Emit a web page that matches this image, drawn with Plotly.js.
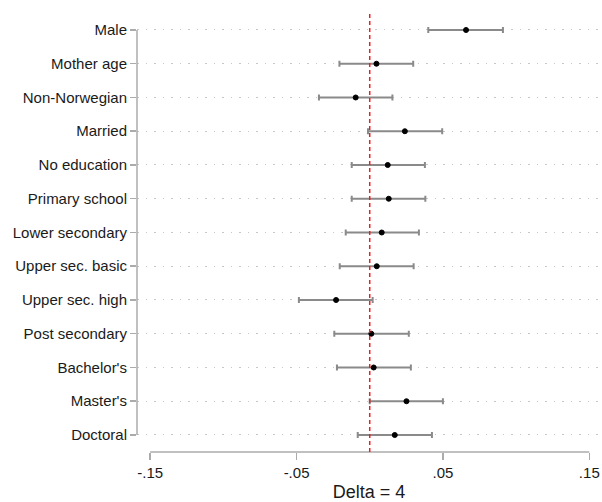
<!DOCTYPE html>
<html>
<head>
<meta charset="utf-8">
<script src="https://cdn.plot.ly/plotly-3.0.1.min.js"></script>
<style>html,body{margin:0;padding:0;background:#fff;}#chart{width:602px;height:502px;}</style>
</head>
<body>
<div id="chart"></div>
<script>
const categories = ["Male","Mother age","Non-Norwegian","Married","No education","Primary school","Lower secondary","Upper sec. basic","Upper sec. high","Post secondary","Bachelor's","Master's","Doctoral"];
const estimate = [0.0658, 0.0046, -0.0096, 0.0240, 0.0123, 0.0130, 0.0082, 0.0048, -0.0230, 0.0011, 0.0027, 0.0251, 0.0171];
const ciLower  = [0.0400, -0.0207, -0.0347, -0.0012, -0.0123, -0.0123, -0.0164, -0.0205, -0.0484, -0.0242, -0.0224, 0.0000, -0.0082];
const ciUpper  = [0.0910, 0.0297, 0.0155, 0.0495, 0.0377, 0.0380, 0.0336, 0.0300, 0.0020, 0.0267, 0.0281, 0.0500, 0.0425];
const xTickVals = [-0.15, -0.05, 0.05, 0.15];
const xTickText = ["-.15", "-.05", ".05", ".15"];
const xTitle = "Delta = 4";
const refValue = 0;

const plus = estimate.map((v,i)=>ciUpper[i]-v);
const minus = estimate.map((v,i)=>v-ciLower[i]);

const trace = {
  type: 'scatter', mode: 'markers',
  x: estimate, y: categories,
  marker: {color: '#000', size: 5, line: {color: '#000', width: 1}},
  error_x: {type: 'data', symmetric: false, array: plus, arrayminus: minus,
            color: '#8a8a8a', thickness: 2, width: 3},
  hoverinfo: 'skip', showlegend: false
};

const axisCol = '#ababab';
const layout = {
  width: 602, height: 502,
  margin: {l: 137, r: 1, t: 12, b: 50, pad: 0},
  paper_bgcolor: '#fff', plot_bgcolor: '#fff',
  font: {family: 'Liberation Sans, Arial, sans-serif', size: 15, color: '#1a1a1a'},
  xaxis: {
    range: [-0.159, 0.158], tickvals: xTickVals, ticktext: xTickText,
    ticks: 'outside', ticklen: 7, tickwidth: 1.5, tickcolor: axisCol,
    showgrid: false, zeroline: false, showline: false,
    tickfont: {size: 15, color: '#1a1a1a'},
    title: {text: xTitle, font: {size: 18, color: '#1a1a1a'}, standoff: 9}
  },
  yaxis: {
    type: 'category', categoryorder: 'array', categoryarray: categories,
    range: [categories.length - 1 + 0.504, -0.533],
    ticks: 'outside', ticklen: 6, tickwidth: 1.5, tickcolor: axisCol,
    showgrid: true, gridcolor: '#c8c8c8', gridwidth: 1, griddash: '1.5px,7px',
    zeroline: false, showline: false,
    tickfont: {size: 15, color: '#1a1a1a'}
  },
  shapes: [
    {type: 'line', xref: 'x', yref: 'paper', x0: xTickVals[0], x1: xTickVals[xTickVals.length-1], y0: 0, y1: 0,
     line: {color: axisCol, width: 1.5}},
    {type: 'line', xref: 'paper', yref: 'y', x0: 0, x1: 0, y0: 0, y1: categories.length - 1,
     line: {color: axisCol, width: 1.5}},
    {type: 'line', xref: 'x', yref: 'paper', x0: refValue, x1: refValue, y0: 0, y1: 1,
     line: {color: '#ee1c24', width: 1.5, dash: '4px,3px'}, layer: 'above'}
  ]
};

Plotly.newPlot('chart', [trace], layout, {staticPlot: true, displayModeBar: false});
</script>
</body>
</html>
